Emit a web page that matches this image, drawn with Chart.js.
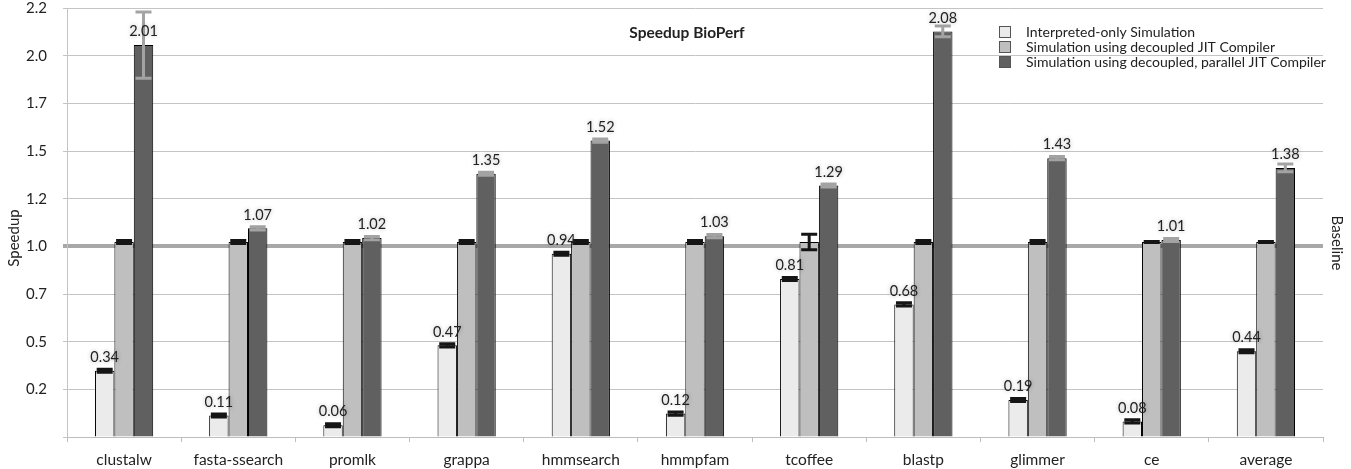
<!DOCTYPE html>
<html>
<head>
<meta charset="utf-8">
<script src="https://cdn.jsdelivr.net/npm/chart.js@4.4.0/dist/chart.umd.min.js"></script>
<style>
html, body { margin: 0; padding: 0; background: #fff; }
#wrap { width: 1351px; height: 469px; }
</style>
</head>
<body>
<div id="wrap"><canvas id="speedupChart"></canvas></div>
<script>
// values
const categories = ['clustalw', 'fasta-ssearch', 'promlk', 'grappa', 'hmmsearch', 'hmmpfam',
    'tcoffee', 'blastp', 'glimmer', 'ce', 'average'];
const interpreted = [0.34, 0.11, 0.06, 0.47, 0.94, 0.12, 0.81, 0.68, 0.19, 0.08, 0.44];
const decoupledJit = [1.00, 1.00, 1.00, 1.00, 1.00, 1.00, 1.00, 1.00, 1.00, 1.00, 1.00];
const parallelJit = [2.01, 1.07, 1.02, 1.35, 1.52, 1.03, 1.29, 2.08, 1.43, 1.01, 1.38];

// +/- error per bar
const errInterpreted = [0.008, 0.008, 0.008, 0.008, 0.008, 0.008, 0.008, 0.008, 0.008, 0.008, 0.008];
const errDecoupled = [0.008, 0.008, 0.008, 0.008, 0.008, 0.008, 0.04, 0.008, 0.008, 0.003, 0.003];
const errParallel = [0.17, 0.008, 0.008, 0.008, 0.008, 0.008, 0.008, 0.028, 0.008, 0.008, 0.02];

const seriesNames = ['Interpreted-only Simulation', 'Simulation using decoupled JIT Compiler',
    'Simulation using decoupled, parallel JIT Compiler'];
const yTickLabels = ['', '0.2', '0.5', '0.7', '1.0', '1.2', '1.5', '1.7', '2.0', '2.2'];
const yMax = 2.2;

const fills = ['#ebebeb', '#bfbfbf', '#606060'];
const errColors = ['#151515', '#151515', '#a3a3a3'];
const FONT = 'Lato, "Open Sans", sans-serif';

const overlay = {
    id: 'overlay',
    afterDatasetsDraw(chart) {
        const ctx = chart.ctx;
        const y = chart.scales.y;
        const errs = [errInterpreted, errDecoupled, errParallel];

        // error bars
        errs.forEach((e, di) => {
            const vals = chart.data.datasets[di].data;
            chart.getDatasetMeta(di).data.forEach((bar, i) => {
                const x = bar.x;
                const top = y.getPixelForValue(vals[i] + e[i]);
                const bot = y.getPixelForValue(vals[i] - e[i]);
                ctx.save();
                ctx.strokeStyle = errColors[di];
                ctx.lineWidth = 3;
                ctx.beginPath();
                ctx.moveTo(x, top); ctx.lineTo(x, bot);
                ctx.moveTo(x - 8, top); ctx.lineTo(x + 8, top);
                ctx.moveTo(x - 8, bot); ctx.lineTo(x + 8, bot);
                ctx.stroke();
                ctx.restore();
            });
        });

        // value labels
        [0, 2].forEach(di => {
            const vals = chart.data.datasets[di].data;
            chart.getDatasetMeta(di).data.forEach((bar, i) => {
                ctx.save();
                ctx.font = '14.5px ' + FONT;
                ctx.textAlign = 'center';
                ctx.textBaseline = 'middle';
                ctx.shadowColor = 'rgba(0,0,0,0.3)';
                ctx.shadowBlur = 4;
                ctx.fillStyle = '#222';
                ctx.fillText(vals[i].toFixed(2), bar.x, bar.y - 13.5);
                ctx.restore();
            });
        });
    },
    afterDraw(chart) {
        const ctx = chart.ctx;
        const area = chart.chartArea;
        ctx.save();
        ctx.fillStyle = '#222';

        // title
        ctx.font = 'bold 15.5px ' + FONT;
        ctx.textAlign = 'center';
        ctx.textBaseline = 'middle';
        ctx.fillText('Speedup BioPerf', (area.left + area.right) / 2 - 8, 33);

        // legend
        ctx.font = '14px ' + FONT;
        ctx.textAlign = 'left';
        seriesNames.forEach((name, i) => {
            const cy = 32 + i * 15;
            ctx.fillStyle = fills[i];
            ctx.fillRect(999.5, cy - 5.5, 11, 11);
            ctx.strokeStyle = '#555';
            ctx.lineWidth = 1;
            ctx.strokeRect(999.5, cy - 5.5, 11, 11);
            ctx.fillStyle = '#222';
            ctx.fillText(name, 1026, cy);
        });

        // axis titles
        ctx.font = '15px ' + FONT;
        ctx.textAlign = 'center';
        ctx.save();
        ctx.translate(14, 238);
        ctx.rotate(-Math.PI / 2);
        ctx.fillText('Speedup', 0, 0);
        ctx.restore();

        ctx.save();
        ctx.translate(1337, 243);
        ctx.rotate(Math.PI / 2);
        ctx.fillText('Baseline', 0, 0);
        ctx.restore();

        ctx.restore();
    }
};

const ctx = document.getElementById('speedupChart').getContext('2d');
new Chart(ctx, {
    type: 'bar',
    data: {
        labels: categories,
        datasets: [
            { label: seriesNames[0], data: interpreted, backgroundColor: fills[0] },
            { label: seriesNames[1], data: decoupledJit, backgroundColor: fills[1] },
            { label: seriesNames[2], data: parallelJit, backgroundColor: fills[2] }
        ].map(d => Object.assign(d, {
            borderColor: '#000',
            borderWidth: 1,
            borderSkipped: 'bottom',
            categoryPercentage: 0.51,
            barPercentage: 1.0
        }))
    },
    options: {
        responsive: true,
        maintainAspectRatio: false,
        animation: false,
        layout: { padding: { left: 0, right: 28, top: 8, bottom: 0 } },
        plugins: {
            legend: { display: false },
            title: { display: false },
            tooltip: { enabled: false }
        },
        scales: {
            x: {
                grid: {
                    offset: true,
                    drawOnChartArea: false,
                    color: '#bdbdbd',
                    tickLength: 5
                },
                border: { color: '#bdbdbd' },
                ticks: {
                    color: '#222',
                    padding: 9,
                    font: { family: FONT, size: 15.5 }
                },
                afterFit(scale) {
                    scale.height = 32;
                    scale.paddingLeft = 0;
                    scale.paddingRight = 0;
                }
            },
            y: {
                min: 0,
                max: yMax,
                afterBuildTicks(scale) {
                    scale.ticks = yTickLabels.map((_, i) => ({ value: i * yMax / (yTickLabels.length - 1) }));
                },
                grid: {
                    color: c => c.index === 4 ? '#a8a8a8' : '#c4c4c4',
                    lineWidth: c => c.index === 4 ? 4 : 1,
                    tickLength: 4
                },
                border: { color: '#c4c4c4' },
                ticks: {
                    color: '#222',
                    padding: 16,
                    font: { family: FONT, size: 15 },
                    callback: (v, i) => yTickLabels[i]
                },
                afterFit(scale) {
                    scale.width = 67;
                    scale.paddingTop = 0;
                    scale.paddingBottom = 0;
                }
            }
        }
    },
    plugins: [overlay]
});
</script>
</body>
</html>
